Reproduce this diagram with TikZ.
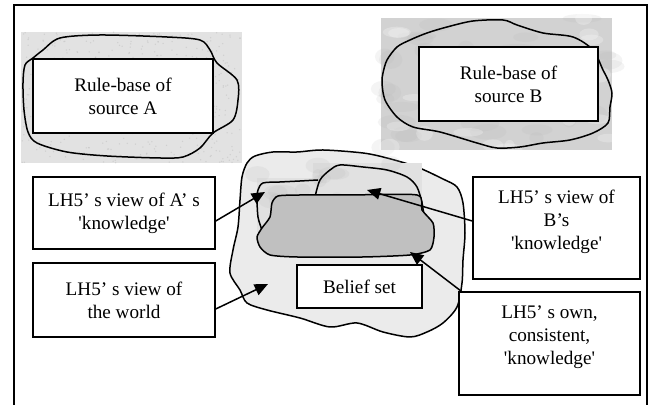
\documentclass[tikz,border=0pt]{standalone}
\usepackage{fontspec}
\setmainfont{Liberation Serif}
\usetikzlibrary{arrows.meta,calc}
\definecolor{worldfill}{RGB}{235,235,235}
\definecolor{corefill}{RGB}{192,192,192}
\definecolor{texA}{RGB}{226,226,226}
\definecolor{texB}{RGB}{210,210,210}
\definecolor{texL}{RGB}{225,225,225}
\begin{document}
\begin{tikzpicture}[x=0.6pt,y=-0.6pt,
  box/.style={draw, line width=0.9pt, fill=white, inner sep=0pt, align=center, font=\fontsize{11.5}{13.8}\selectfont},
  txt/.style={align=center, inner sep=0pt, font=\fontsize{11.5}{13.8}\selectfont},
  outline/.style={line width=0.9pt, line join=round},
  conn/.style={line width=0.9pt, -{Triangle[length=8pt,width=7pt]}},
  speck/.style={fill=gray!55, opacity=0.45},
  blotch/.style={fill=gray!60, opacity=0.14}]
\useasboundingbox (0,0) rectangle (655,405);
\pgfmathsetseed{11}
% frame
\draw[line width=0.9pt] (14,405) -- (14,5) -- (647,5) -- (647,405);
% texture patch A
\fill[texA] (21,32) rectangle (242,163);
\foreach \i in {1,...,500}{\fill[speck] ({21+221*rnd},{32+131*rnd}) circle (0.45pt);}
% texture patch B
\fill[texB] (381,18) rectangle (612,150);
\foreach \i in {1,...,45}{\fill[blotch] ({381+231*rnd},{18+132*rnd}) ellipse ({(4+8*rnd)*1pt} and {(2+4*rnd)*1pt});}
\foreach \i in {1,...,30}{\fill[white, opacity=0.25] ({381+231*rnd},{18+132*rnd}) ellipse ({(3+6*rnd)*1pt} and {(2+3*rnd)*1pt});}
% blob outlines A and B
\draw[outline] plot[smooth cycle, tension=0.5] coordinates {(25,65) (23,83) (24,110) (28,132) (37,143) (67,152) (107,156) (160,158) (183,157) (200,148) (213,133) (233,120) (238,100) (237,80) (217,63) (210,50) (200,40) (167,37) (100,35) (60,38) (43,50) (33,58)};
\draw[outline] plot[smooth cycle, tension=0.5] coordinates {(383,73) (382,83) (385,100) (397,117) (413,127) (440,132) (477,143) (497,148) (520,147) (543,143) (570,140) (593,133) (608,123) (610,107) (612,93) (608,80) (603,70) (593,50) (573,37) (543,33) (517,25) (503,20) (473,21) (447,27) (427,33) (410,40) (397,47) (387,60)};
% world blob
\filldraw[outline, fill=worldfill] plot[smooth cycle, tension=0.5] coordinates {(247,163) (255,156) (273,152) (297,152) (323,150) (363,153) (387,158) (417,167) (443,179) (457,187) (463,203) (465,233) (463,260) (462,283) (457,307) (443,323) (427,332) (410,337) (383,332) (357,323) (330,327) (300,318) (267,310) (247,303) (240,290) (230,273) (233,250) (238,227) (240,200) (242,177)};
% texture patches A' and B'
\fill[texL] (257,178) rectangle (313,232);
\fill[texL] (313,163) rectangle (422,215);
\foreach \i in {1,...,25}{\fill[blotch] ({257+165*rnd},{163+60*rnd}) ellipse ({(3+6*rnd)*1pt} and {(2+3*rnd)*1pt});}
\fill[worldfill] (313,215) rectangle (422,232);
% A' and B' outlines
\draw[outline] plot[smooth, tension=0.5] coordinates {(262,230) (258,217) (257,198) (258,190) (263,183) (280,182) (300,181) (318,180)};
\draw[outline] plot[smooth, tension=0.5] coordinates {(315,197) (320,180) (330,170) (340,165) (363,167) (387,170) (407,177) (417,187) (422,203) (424,216)};
% core
\filldraw[outline, fill=corefill] plot[smooth cycle, tension=0.4] coordinates {(278,196) (300,195) (350,195) (417,195) (422,210) (433,223) (434,237) (430,250) (410,255) (363,257) (297,257) (270,255) (260,247) (257,237) (262,228) (270,217) (272,203)};
% boxes
\node[box, minimum width=108pt, minimum height=44.4pt] (ra) at (123,96) {Rule-base of\\source A};
\node[box, minimum width=107.4pt, minimum height=44.4pt] (rb) at (508.5,84) {Rule-base of\\source B};
\node[box, minimum width=109.2pt, minimum height=43.2pt] (av) at (124,213) {LH5’ s view of A’ s\\\textquotesingle knowledge\textquotesingle};
\node[box, minimum width=109.2pt, minimum height=44.4pt] (wv) at (124,300) {LH5’ s view of\\the world};
\node[box, minimum width=100.2pt, minimum height=61.2pt] (bv) at (556.5,228) {};
\node[txt] (bvt) at ([yshift=4pt]bv.center) {LH5’ s view of\\B’s\\\textquotesingle knowledge\textquotesingle};
\node[box, minimum width=108.6pt, minimum height=61.8pt] (ov) at (549.5,343.5) {};
\node[txt] (ovt) at ([yshift=4pt]ov.center) {LH5’ s own,\\consistent,\\\textquotesingle knowledge\textquotesingle};
\node[box, minimum width=75pt, minimum height=25.8pt] (bs) at (359.5,286.5) {Belief set};
% arrow targets
\coordinate (tA) at (265,192);
\coordinate (tW) at (268,284);
\coordinate (tB) at (367,190);
\coordinate (tO) at (410,252);
\draw[conn] (av.east |- 0,221) -- (tA);
\draw[conn] (wv.east |- 0,309) -- (tW);
\draw[conn] (bv.west |- 0,221) -- (tB);
\draw[conn] (ov.north west |- 0,292) ++(4,0) -- (tO);
\end{tikzpicture}
\end{document}
